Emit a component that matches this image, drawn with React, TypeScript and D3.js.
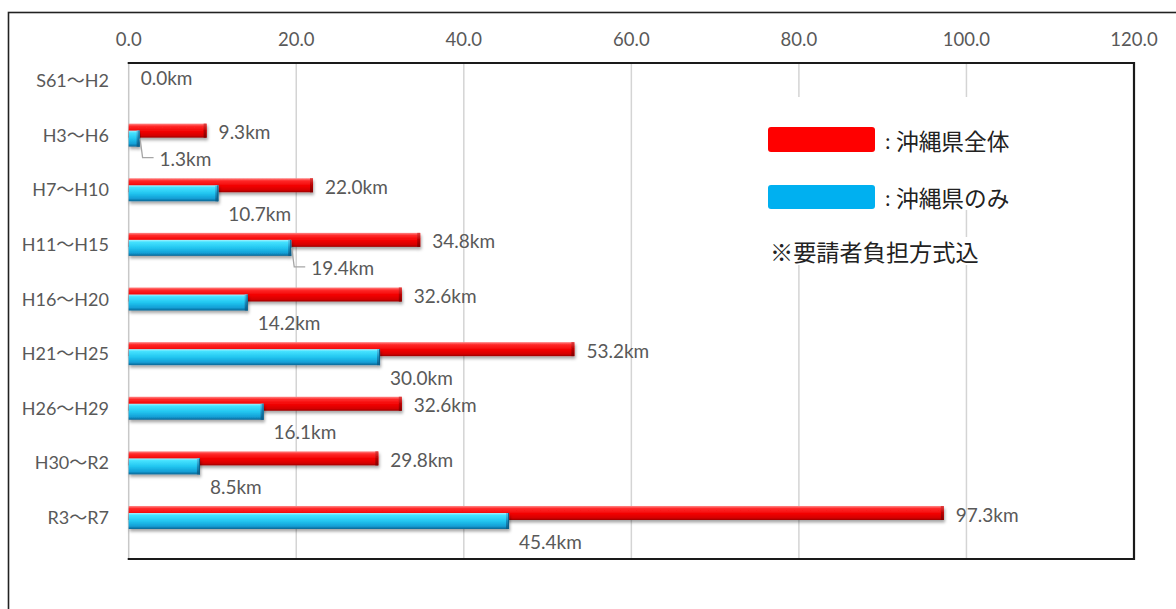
import React from "react";
import * as d3 from "d3";

const categories = ["S61～H2", "H3～H6", "H7～H10", "H11～H15", "H16～H20", "H21～H25", "H26～H29", "H30～R2", "R3～R7"];
const totalKm: number[] = [0.0, 9.3, 22.0, 34.8, 32.6, 53.2, 32.6, 29.8, 97.3];
const okinawaOnlyKm: (number | null)[] = [null, 1.3, 10.7, 19.4, 14.2, 30.0, 16.1, 8.5, 45.4];
const xTicks = [0, 20, 40, 60, 80, 100, 120];
const leaderLabelCats = ["H3～H6", "H11～H15"];
const legendLabels = ["沖縄県全体", "沖縄県のみ"];
const noteText = "※要請者負担方式込";

const W = 1176;
const H = 609;
const plotLeft = 128.7;
const plotRight = 1134;
const plotTop = 63;
const plotBottom = 559;

const LATIN = "Lato, 'Noto Sans CJK JP', sans-serif";
const CJK = "'Noto Sans CJK JP', sans-serif";
const GRAY = "#595959";

export default function App() {
  const x = d3.scaleLinear().domain([0, 120]).range([plotLeft, plotRight]);
  const y = d3.scalePoint<string>().domain(categories).range([80, 517]);
  const fmt = d3.format(".1f");

  return (
    <svg
      width={W}
      height={H}
      style={{ position: "absolute", left: 0, top: 0, background: "#fff" }}
    >
      <defs>
        <linearGradient id="redGrad" x1="0" y1="0" x2="0" y2="1">
          <stop offset="0%" stopColor="#ff8a8a" />
          <stop offset="18%" stopColor="#ff2a2a" />
          <stop offset="55%" stopColor="#f20000" />
          <stop offset="85%" stopColor="#d40000" />
          <stop offset="100%" stopColor="#9a0000" />
        </linearGradient>
        <linearGradient id="redCap" x1="0" y1="0" x2="0" y2="1">
          <stop offset="0%" stopColor="#e04040" />
          <stop offset="50%" stopColor="#b80000" />
          <stop offset="100%" stopColor="#800000" />
        </linearGradient>
        <linearGradient id="blueGrad" x1="0" y1="0" x2="0" y2="1">
          <stop offset="0%" stopColor="#a8f2ff" />
          <stop offset="14%" stopColor="#45e2ff" />
          <stop offset="50%" stopColor="#22c6f0" />
          <stop offset="82%" stopColor="#139fd6" />
          <stop offset="100%" stopColor="#0b6594" />
        </linearGradient>
        <linearGradient id="blueCap" x1="0" y1="0" x2="0" y2="1">
          <stop offset="0%" stopColor="#58c8ea" />
          <stop offset="50%" stopColor="#1a8cbd" />
          <stop offset="100%" stopColor="#0b5a84" />
        </linearGradient>
        <filter id="shadow" x="-5%" y="-50%" width="110%" height="220%">
          <feDropShadow dx="1" dy="2.5" stdDeviation="1.6" floodColor="#000" floodOpacity="0.35" />
        </filter>
      </defs>

      {/* outer frame */}
      <rect x={8.5} y={12.5} width={1400} height={800} fill="#fff" stroke="#222" strokeWidth={1.6} />

      {/* gridlines */}
      {xTicks
        .filter((t) => t > 0 && t < 120)
        .map((t) => (
          <line key={"g" + t} x1={x(t)} x2={x(t)} y1={plotTop} y2={plotBottom} stroke="#d4d4d4" strokeWidth={1.5} />
        ))}
      <line x1={x(0)} x2={x(0)} y1={plotTop} y2={plotBottom} stroke="#c8c8c8" strokeWidth={1.5} />

      {/* legend backgrounds */}
      <rect x={760} y={97} width={262} height={113} fill="#fff" />
      <rect x={762} y={210} width={190} height={55} fill="#fff" />
      <rect x={762} y={237} width={232} height={28} fill="#fff" />

      {/* plot frame: top, right, bottom */}
      <path
        d={`M${x(0) - 1},${plotTop}H${plotRight}V${plotBottom}H${x(0) - 1}`}
        fill="none"
        stroke="#1a1a1a"
        strokeWidth={2.2}
      />

      {/* tick labels */}
      {xTicks.map((t) => (
        <text
          key={"t" + t}
          x={x(t)}
          y={39}
          textAnchor="middle"
          dominantBaseline="central"
          fontFamily={LATIN}
          fontSize={18.5}
          fill={GRAY}
        >
          {fmt(t)}
        </text>
      ))}

      {/* category labels */}
      {categories.map((c) => (
        <text
          key={"c" + c}
          x={109}
          y={y(c)!}
          textAnchor="end"
          dominantBaseline="central"
          fontFamily={LATIN}
          fontSize={18}
          fill={GRAY}
        >
          {c}
        </text>
      ))}

      {/* bars */}
      {categories.map((c, i) => {
        const cy = y(c)!;
        const tv = totalKm[i];
        const bv = okinawaOnlyKm[i];
        const rw = x(tv) - x(0);
        const bw = bv == null ? 0 : x(bv) - x(0);
        return (
          <g key={"b" + c}>
            {rw > 0 && (
              <g filter="url(#shadow)">
                <rect x={x(0)} y={cy - 11} width={rw} height={14} fill="url(#redGrad)" />
                <rect x={x(tv) - 3} y={cy - 11} width={3} height={14} fill="url(#redCap)" />
              </g>
            )}
            {bw > 0 && (
              <g filter="url(#shadow)">
                <rect x={x(0)} y={cy - 4} width={bw} height={16} fill="url(#blueGrad)" />
                <rect x={x(bv!) - 3} y={cy - 4} width={3} height={16} fill="url(#blueCap)" />
                <line x1={x(bv!) - 0.5} x2={x(bv!) - 0.5} y1={cy - 4} y2={cy + 12} stroke="#0a5f8a" strokeWidth={1} />
              </g>
            )}
          </g>
        );
      })}

      {/* value labels */}
      {categories.map((c, i) => {
        const cy = y(c)!;
        const tv = totalKm[i];
        const bv = okinawaOnlyKm[i];
        const leader = leaderLabelCats.includes(c);
        return (
          <g key={"l" + c} fontFamily={LATIN} fontSize={19} fill={GRAY}>
            <text x={x(tv) + 12} y={cy - 3} dominantBaseline="central">
              {fmt(tv) + "km"}
            </text>
            {bv != null && !leader && (
              <text x={x(bv) + 10} y={cy + 24} dominantBaseline="central">
                {fmt(bv) + "km"}
              </text>
            )}
            {bv != null && leader && (
              <g>
                <polyline
                  points={`${x(bv) + 0.5},${cy + 4} ${x(bv) + 3},${cy + 23} ${x(bv) + 14},${cy + 23}`}
                  fill="none"
                  stroke="#a6a6a6"
                  strokeWidth={1.3}
                />
                <text x={x(bv) + 20} y={cy + 24} dominantBaseline="central">
                  {fmt(bv) + "km"}
                </text>
              </g>
            )}
          </g>
        );
      })}

      {/* legend */}
      <rect x={768} y={127} width={107} height={25} rx={3} fill="#ff0000" />
      <rect x={768} y={185} width={107} height={24} rx={3} fill="#00b0f0" />
      {legendLabels.map((lbl, i) => (
        <g key={"lg" + i} fontFamily={CJK} fill="#222">
          <text x={885} y={i === 0 ? 140 : 197} dominantBaseline="central" fontSize={20}>
            :
          </text>
          <text x={896} y={i === 0 ? 140 : 197} dominantBaseline="central" fontSize={22.7}>
            {lbl}
          </text>
        </g>
      ))}
      <text x={770} y={251} dominantBaseline="central" fontFamily={CJK} fontSize={23.2} fill="#222">
        {noteText}
      </text>
    </svg>
  );
}
